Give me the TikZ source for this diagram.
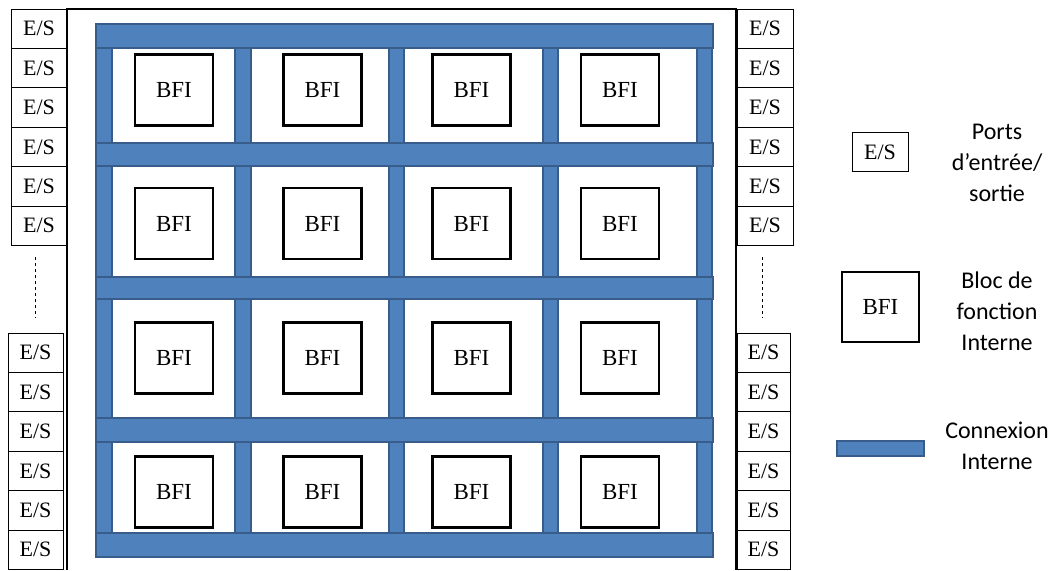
\documentclass[tikz,border=0pt]{standalone}
\usepackage{fontspec}
\setmainfont{Liberation Serif}
\newfontfamily\legendfont{Carlito}
\usetikzlibrary{math}

\definecolor{barblue}{RGB}{79,129,189}
\definecolor{baredge}{RGB}{56,93,138}

\tikzset{
  esport/.style={draw, line width=0.9pt, minimum width=56pt, minimum height=39.4pt,
    inner sep=0pt, fill=white, font=\fontsize{22}{24}\selectfont},
  bfi/.style={draw, line width=2.4pt, minimum width=78pt, minimum height=71pt,
    inner sep=0pt, fill=white, font=\fontsize{23}{25}\selectfont},
  bar/.style={fill=barblue, draw=baredge, line width=1.5pt},
  legendtext/.style={align=center, font=\legendfont\fontsize{24}{31}\selectfont}
}

\begin{document}
\begin{tikzpicture}[x=1pt, y=-1pt]
  \useasboundingbox (0,0) rectangle (1056,570);
  \tikzmath{%
    \esh = 39.4; \estop = 9; \esbot = 333;
  }

  % ports d'entree/sortie
  \foreach \i in {1,...,6} {
    \node[esport] (esLa\i) at (39, {\estop+\esh*(\i-0.5)}) {E/S};
    \node[esport, minimum width=55pt] (esLb\i) at (35.5, {\esbot+\esh*(\i-0.5)}) {E/S};
    \node[esport] (esRa\i) at (765, {\estop+\esh*(\i-0.5)}) {E/S};
    \node[esport, minimum width=53pt] (esRb\i) at (763.5, {\esbot+\esh*(\i-0.5)}) {E/S};
  }
  \draw[dashed, line width=0.7pt] (35,257) -- (35,318);
  \draw[dashed, line width=0.7pt] (762,257) -- (762,318);

  % contour du circuit
  \draw[line width=2.6pt] (67,570) -- (67,9) -- (736,9) -- (736,570);

  % connexions internes
  \foreach \xa/\xb in {96/112, 235/251, 389/404, 543/558, 697/712}
    \draw[bar] (\xa,48) rectangle (\xb,533);
  \foreach \ya/\yb in {24/48, 143/166, 277/299, 418/442, 533/557}
    \draw[bar] (96,\ya) rectangle (713,\yb);

  % blocs de fonction
  \foreach \r/\yc in {1/90, 2/223.5, 3/358, 4/492}
    \foreach \c/\xc in {1/174, 2/322.5, 3/471.5, 4/620}
      \node[bfi] (bfi\r\c) at (\xc,\yc) {BFI};

  % legende
  \node[esport] (legES) at (880,152) {E/S};
  \node[legendtext] (legESt) at (997,163) {Ports\\d’entrée/\\sortie};
  \node[bfi, minimum width=77pt, minimum height=70pt] (legBFI) at (880.5,307) {BFI};
  \node[legendtext] (legBFIt) at (997,311) {Bloc de\\fonction\\Interne};
  \node[bar, minimum width=87pt, minimum height=15pt, inner sep=0pt] (legBar) at (880.5,448.5) {};
  \node[legendtext] (legBart) at (997,446) {Connexion\\Interne};
\end{tikzpicture}
\end{document}
